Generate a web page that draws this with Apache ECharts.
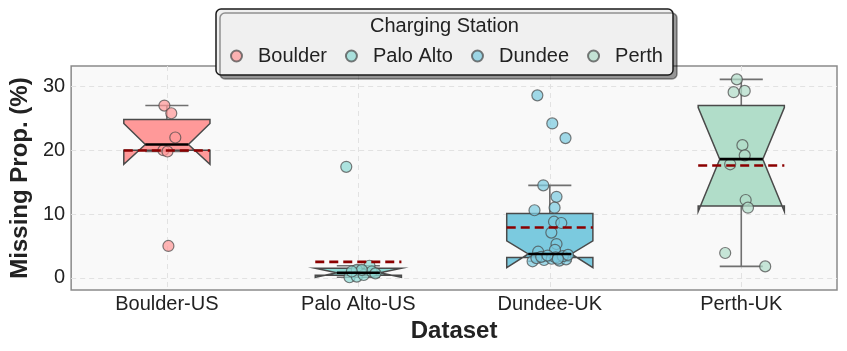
<!DOCTYPE html>
<html>
<head>
<meta charset="utf-8">
<title>Missing Prop.</title>
<script src="https://cdn.jsdelivr.net/npm/echarts@6/dist/echarts.min.js"></script>
<style>
  html, body { margin: 0; padding: 0; background: #fff; }
  #chart { width: 847px; height: 351px; }
</style>
</head>
<body>
<div id="chart"></div>
<script>
// data
const categories = ["Boulder-US", "Palo Alto-US", "Dundee-UK", "Perth-UK"]
const stations = ["Boulder", "Palo Alto", "Dundee", "Perth"]
const yTicks = [0, 10, 20, 30]

// box stats per dataset
const q1 = [20.0, 0.4, 3.2, 11.25]
const median = [20.9, 0.8, 3.75, 18.6]
const q3 = [24.8, 1.5, 10.1, 27.0]
const notchLo = [17.8, 0.1, 1.6, 10.4]
const notchHi = [24.2, 1.5, 5.8, 26.7]
const whiskerLo = [19.8, 0.1, 2.6, 1.8]
const whiskerHi = [27.0, 1.9, 14.5, 31.1]
const means = [19.95, 2.5, 7.9, 17.6]

// strip points (value) and their horizontal jitter (category units)
const boulderPts = [27.0, 25.8, 22.0, 20.0, 19.8, 5.0]
const boulderJit = [-0.013, 0.023, 0.044, -0.018, 0.003, 0.008]
const paloAltoPts = [17.4, 0.1, 1.25, 0.2, 0.45, 1.9, 1.0, 1.25, 0.7, 1.0]
const paloAltoJit = [-0.063, -0.046, -0.008, -0.008, 0.028, 0.058, 0.07, 0.018, 0.089, -0.034]
const dundeePts = [28.6, 24.2, 21.9, 14.5, 12.7, 11.0, 10.6, 8.8, 8.6, 7.1, 5.3, 4.1, 4.4,
  2.6, 2.7, 2.8, 2.9, 3.0, 3.1, 3.2, 3.3, 3.4, 3.5, 3.6, 3.0]
const dundeeJit = [-0.065, 0.013, 0.082, -0.034, 0.035, 0.025, -0.08, 0.022, 0.06, 0.008, 0.035, -0.061, 0.027,
  -0.09, 0.05, -0.03, 0.085, 0.01, -0.07, 0.03, -0.045, 0.068, -0.012, 0.095, 0.042]
const perthPts = [31.1, 29.1, 29.3, 20.8, 19.2, 17.8, 12.2, 11.0, 3.9, 1.8]
const perthJit = [-0.023, -0.04, 0.018, 0.006, 0.018, -0.058, 0.023, 0.035, -0.084, 0.125]

const colors = ["#FF9999", "#8DDAD4", "#7BCADF", "#B1DDC9"]
const font = "Liberation Sans, Arial, sans-serif"

const chart = echarts.init(document.getElementById("chart"))

const allPts = [boulderPts, paloAltoPts, dundeePts, perthPts]
const allJit = [boulderJit, paloAltoJit, dundeeJit, perthJit]

const boxData = categories.map((c, i) => [
  i, q1[i], median[i], q3[i], notchLo[i], notchHi[i], whiskerLo[i], whiskerHi[i], means[i]
])

const HW = 0.225

function renderBox(params, api) {
  const i = api.value(0)
  const y = v => api.coord([i, v])[1]
  const x = d => api.coord([i + d, 0])[0]
  const xl = x(-HW), xr = x(HW), xli = x(-HW / 2), xri = x(HW / 2), xc = x(0)
  const yq1 = y(api.value(1)), ymed = y(api.value(2)), yq3 = y(api.value(3))
  const ynlo = y(api.value(4)), ynhi = y(api.value(5))
  const ywlo = y(api.value(6)), ywhi = y(api.value(7))
  const wStyle = { stroke: "#707070", lineWidth: 1.6 }
  return {
    type: "group",
    children: [
      { type: "line", shape: { x1: xc, y1: yq3, x2: xc, y2: ywhi }, style: wStyle },
      { type: "line", shape: { x1: xli, y1: ywhi, x2: xri, y2: ywhi }, style: wStyle },
      { type: "line", shape: { x1: xc, y1: yq1, x2: xc, y2: ywlo }, style: wStyle },
      { type: "line", shape: { x1: xli, y1: ywlo, x2: xri, y2: ywlo }, style: wStyle },
      {
        type: "polygon",
        shape: {
          points: [
            [xl, yq1], [xl, ynlo], [xli, ymed], [xl, ynhi], [xl, yq3],
            [xr, yq3], [xr, ynhi], [xri, ymed], [xr, ynlo], [xr, yq1]
          ]
        },
        style: { fill: colors[i], stroke: "#4a4a4a", lineWidth: 1.5 }
      }
    ]
  }
}

function renderLines(params, api) {
  const i = api.value(0)
  const y = v => api.coord([i, v])[1]
  const x = d => api.coord([i + d, 0])[0]
  const ymed = y(api.value(2)), ymean = y(api.value(8))
  return {
    type: "group",
    children: [
      {
        type: "line",
        shape: { x1: x(-HW / 2), y1: ymed, x2: x(HW / 2), y2: ymed },
        style: { stroke: "#000", lineWidth: 2.6 }
      },
      {
        type: "line",
        shape: { x1: x(-HW), y1: ymean, x2: x(HW), y2: ymean },
        style: { stroke: "#8B0000", lineWidth: 2.6, lineDash: [9, 5] }
      }
    ]
  }
}

const splitStyle = { show: true, lineStyle: { color: "#e2e2e2", width: 1, type: [5, 4] } }

const option = {
  animation: false,
  grid: {
    left: 65, right: 10, top: 66, bottom: 61,
    show: true, backgroundColor: "#f9f9f9", borderColor: "#8a8a8a", borderWidth: 1.5
  },
  xAxis: {
    type: "value", min: -0.5, max: 3.5,
    name: "Dataset", nameLocation: "middle", nameGap: 25,
    nameTextStyle: { fontFamily: font, fontSize: 24, fontWeight: "bold", color: "#222" },
    axisLine: { show: false },
    axisTick: { show: false, customValues: [0, 1, 2, 3] },
    axisLabel: {
      customValues: [0, 1, 2, 3], margin: 4,
      formatter: v => categories[v],
      fontFamily: font, fontSize: 20, color: "#222"
    },
    splitLine: splitStyle
  },
  yAxis: {
    type: "value", min: -1.9, max: 33.2,
    name: "Missing Prop. (%)", nameLocation: "middle", nameGap: 30,
    nameTextStyle: { fontFamily: font, fontSize: 24, fontWeight: "bold", color: "#222" },
    axisLine: { show: false },
    axisTick: { show: false, customValues: yTicks },
    axisLabel: { customValues: yTicks, margin: 6, fontFamily: font, fontSize: 20, color: "#222" },
    splitLine: splitStyle
  },
  legend: {
    left: 230, top: 46, padding: 0, itemGap: 18, z: 12,
    itemWidth: 11, itemHeight: 11, icon: "circle",
    data: stations,
    textStyle: { fontFamily: font, fontSize: 20, color: "#222", padding: [0, 0, 0, 11] }
  },
  graphic: [
    {
      type: "rect", z: 10,
      shape: { x: 216, y: 9, width: 457, height: 66, r: 5 },
      style: {
        fill: "#f0f0f0", stroke: "#1a1a1a", lineWidth: 1.5,
        shadowColor: "rgba(0,0,0,0.4)", shadowOffsetX: 4, shadowOffsetY: 4, shadowBlur: 0
      }
    },
    {
      type: "text", x: 444.5, y: 26, z: 11,
      style: {
        text: "Charging Station", fontFamily: font, fontSize: 20, fill: "#222",
        align: "center", verticalAlign: "middle"
      }
    }
  ],
  series: [
    {
      type: "custom", z: 2, silent: true,
      renderItem: renderBox,
      encode: { x: 0, y: [1, 2, 3, 4, 5, 6, 7, 8] },
      data: boxData
    },
    ...stations.map((s, i) => ({
      name: s,
      type: "scatter", z: 3,
      symbolSize: 11,
      itemStyle: { color: colors[i], opacity: 0.72, borderColor: "#4a4a4a", borderWidth: 1.2 },
      data: allPts[i].map((v, k) => [i + allJit[i][k], v])
    })),
    {
      type: "custom", z: 4, silent: true,
      renderItem: renderLines,
      encode: { x: 0, y: [1, 2, 3, 4, 5, 6, 7, 8] },
      data: boxData
    }
  ]
}

chart.setOption(option)
</script>
</body>
</html>
